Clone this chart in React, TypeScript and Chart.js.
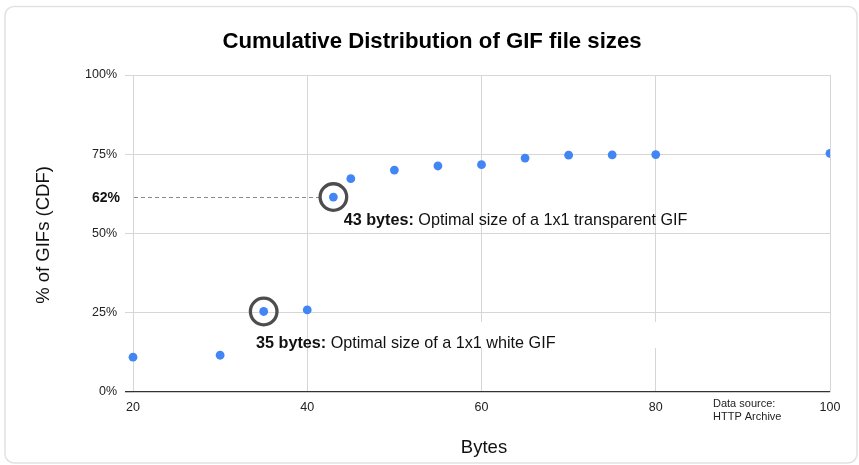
import React, { useEffect, useRef } from "react";
import { Chart, registerables } from "chart.js";

Chart.register(...registerables);

const bytes = [20, 30, 35, 40, 43, 45, 50, 55, 60, 65, 70, 75, 80, 100];
const cdfPercent = [11.0, 11.6, 25.4, 25.9, 61.5, 67.3, 70.0, 71.3, 71.7, 73.8, 74.7, 74.8, 74.9, 75.3];
const yTicks = [0, 25, 50, 75, 100];
const xTicks = [20, 40, 60, 80, 100];
const titleText = "Cumulative Distribution of GIF file sizes";
const xTitle = "Bytes";
const yTitle = "% of GIFs (CDF)";
const highlightLabel = "62%";
const highlightValue = 61.5;
const annotationX = [43, 35];
const annotationY = [61.5, 25.4];
const annotationBold = ["43 bytes:", "35 bytes:"];
const annotationText = [" Optimal size of a 1x1 transparent GIF", " Optimal size of a 1x1 white GIF"];
const sourceLines = ["Data source:", "HTTP Archive"];

const FONT = "Arial, 'Liberation Sans', sans-serif";
const LABEL_OFFSETS = [
  { dx: 10.3, dy: 23 },
  { dx: -7.7, dy: 32 },
];

const decorPlugin = {
  id: "decor",
  beforeDraw(chart: any) {
    const ctx = chart.ctx;
    ctx.save();
    ctx.fillStyle = "#ffffff";
    ctx.fillRect(0, 0, chart.width, chart.height);
    ctx.strokeStyle = "#e2e2e2";
    ctx.lineWidth = 1.5;
    ctx.beginPath();
    (ctx as any).roundRect(5, 6.5, 852, 456.5, 9);
    ctx.stroke();
    ctx.restore();
  },
  beforeDatasetsDraw(chart: any) {
    const ctx = chart.ctx;
    const xs = chart.scales.x;
    const ys = chart.scales.y;
    ctx.save();
    const bx0 = xs.getPixelForValue(50);
    const bx1 = xs.getPixelForValue(95);
    ctx.fillStyle = "#ffffff";
    ctx.fillRect(bx0, 322, bx1 - bx0, 26);
    const yy = ys.getPixelForValue(highlightValue);
    const xEnd = xs.getPixelForValue(43) - 13;
    ctx.strokeStyle = "#8a8a8a";
    ctx.lineWidth = 1;
    ctx.setLineDash([4, 3]);
    ctx.beginPath();
    ctx.moveTo(chart.chartArea.left + 1, Math.round(yy) + 0.5);
    ctx.lineTo(xEnd, Math.round(yy) + 0.5);
    ctx.stroke();
    ctx.setLineDash([]);
    ctx.restore();
  },
  afterDatasetsDraw(chart: any) {
    const ctx = chart.ctx;
    const xs = chart.scales.x;
    const ys = chart.scales.y;
    ctx.save();
    ctx.strokeStyle = "#4d4d4d";
    ctx.lineWidth = 3.3;
    annotationX.forEach((ax, i) => {
      ctx.beginPath();
      ctx.arc(xs.getPixelForValue(ax), ys.getPixelForValue(annotationY[i]), 13.3, 0, Math.PI * 2);
      ctx.stroke();
    });
    ctx.textBaseline = "middle";
    ctx.textAlign = "left";
    ctx.fillStyle = "#111111";
    annotationX.forEach((ax, i) => {
      const px = xs.getPixelForValue(ax) + LABEL_OFFSETS[i].dx;
      const py = ys.getPixelForValue(annotationY[i]) + LABEL_OFFSETS[i].dy;
      ctx.font = "bold 16.2px " + FONT;
      ctx.fillText(annotationBold[i], px, py);
      const w = ctx.measureText(annotationBold[i]).width;
      ctx.font = "16.2px " + FONT;
      ctx.fillText(annotationText[i], px + w, py);
    });
    ctx.font = "bold 14px " + FONT;
    ctx.textAlign = "right";
    ctx.fillStyle = "#111111";
    ctx.fillText(highlightLabel, 120, ys.getPixelForValue(highlightValue) + 1);
    ctx.font = "bold 22.2px " + FONT;
    ctx.textAlign = "center";
    ctx.fillStyle = "#000000";
    ctx.fillText(titleText, 432, 42);
    ctx.font = "18.5px " + FONT;
    ctx.fillStyle = "#111111";
    ctx.fillText(xTitle, 484, 448);
    ctx.save();
    ctx.translate(44, 235);
    ctx.rotate(-Math.PI / 2);
    ctx.fillText(yTitle, 0, 0);
    ctx.restore();
    ctx.font = "11px " + FONT;
    ctx.textAlign = "left";
    ctx.fillStyle = "#222222";
    sourceLines.forEach((l, i) => ctx.fillText(l, 713, 404 + i * 13));
    ctx.restore();
  },
};

export default function App() {
  const ref = useRef<HTMLCanvasElement | null>(null);
  useEffect(() => {
    document.body.style.margin = "0";
    const canvas = ref.current;
    if (!canvas) return;
    const chart = new Chart(canvas, {
      type: "scatter",
      data: {
        datasets: [
          {
            data: bytes.map((b, i) => ({ x: b, y: cdfPercent[i] })),
            backgroundColor: "#4285f4",
            borderColor: "#4285f4",
            pointRadius: 4.4,
            pointBorderWidth: 0,
            clip: { left: false, top: false, right: 0, bottom: false } as any,
          },
        ],
      },
      options: {
        responsive: false,
        animation: false,
        devicePixelRatio: 1,
        layout: { padding: { left: 0, top: 75, right: 29, bottom: 0 } },
        plugins: {
          legend: { display: false },
          tooltip: { enabled: false },
          title: { display: false },
        },
        scales: {
          x: {
            type: "linear",
            min: 20,
            max: 100,
            afterBuildTicks: (s: any) => {
              s.ticks = xTicks.map((v) => ({ value: v }));
            },
            afterFit: (s: any) => {
              s.height = 73;
            },
            border: { display: false },
            grid: { color: "#d6d6d6", lineWidth: 1, drawTicks: false },
            ticks: {
              padding: 8,
              color: "#222222",
              font: { family: FONT, size: 12.5 },
              maxRotation: 0,
            },
          },
          y: {
            type: "linear",
            min: 0,
            max: 100,
            afterBuildTicks: (s: any) => {
              s.ticks = yTicks.map((v) => ({ value: v }));
            },
            afterFit: (s: any) => {
              s.width = 133;
            },
            border: { display: false },
            grid: {
              color: (c: any) => (c.tick && c.tick.value === 0 ? "#333333" : "#d6d6d6"),
              lineWidth: (c: any) => (c.tick && c.tick.value === 0 ? 1.3 : 1),
              drawTicks: true,
              tickLength: 8,
            },
            ticks: {
              padding: 8,
              color: "#222222",
              font: { family: FONT, size: 12.5 },
              callback: (v: any) => v + "%",
            },
          },
        },
      },
      plugins: [decorPlugin],
    });
    return () => chart.destroy();
  }, []);
  return (
    <div style={{ width: 859, height: 465 }}>
      <canvas ref={ref} width={859} height={465} style={{ display: "block" }} />
    </div>
  );
}
